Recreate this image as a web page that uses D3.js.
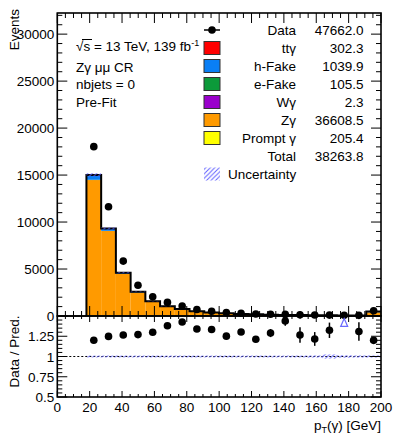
<!DOCTYPE html>
<html><head><meta charset="utf-8">
<script src="https://cdn.jsdelivr.net/npm/d3@7"></script>
<style>body{margin:0;background:#fff}svg{display:block}text{font-family:"Liberation Sans",Arial,sans-serif;fill:#000}</style>
</head><body><svg id="c" width="394" height="434"></svg>
<script>
// ---------------- data ----------------
const binEdges = [18,27.1,36.2,45.3,54.4,63.5,72.6,81.7,90.8,99.9,109,118.1,127.2,136.3,145.4,154.5,163.6,172.7,181.8,190.9,200];
const zgamma  = [14400,9000,4450,2480,1500,1000,700,480,355,265,203,160,127,104,85,71,60,51,44,390];
const hfake   = [500,230,105,55,32,20,14,10,8,6,5,4,4,3,3,2,2,2,2,33];
const ttgamma = [20,22,22,20,19,18,17,16,15,14,13,12,11,10,9,8,7,7,6,36];
const efake   = [30,20,13,9,6,5,4,3,2,2,2,1,1,1,1,1,1,0.5,0.5,2.5];
const wgamma  = [0.6,0.4,0.3,0.2,0.15,0.1,0.1,0.08,0.07,0.05,0.04,0.03,0.03,0.02,0.02,0.02,0.01,0.01,0.01,0.08];
const prompt  = [70,45,25,15,10,7,5,4,3,3,2,2,2,1.5,1.5,1,1,1,1,5.4];
const dataVals = [18025,11628,5843,3276,2037,1449,1055,687,511,363,293,217,187,172,126,101,94,87,70,560];
const ratioErr = [0.01,0.01,0.01,0.01,0.015,0.015,0.02,0.02,0.025,0.035,0.035,0.035,0.05,0.06,0.095,0.085,0.095,0,0.115,0.04];
const uncRel   = [0.012,0.012,0.012,0.012,0.012,0.012,0.012,0.012,0.012,0.012,0.012,0.012,0.012,0.012,0.012,0.014,0.026,0.016,0.014,0.014];
const offScale = [false,false,false,false,false,false,false,false,false,false,false,false,false,false,false,false,false,true,false,false];

const legendNames  = ["tt\u03b3","h-Fake","e-Fake","W\u03b3","Z\u03b3","Prompt \u03b3"];
const legendValues = ["302.3","1039.9","105.5","2.3","36608.5","205.4"];
const legendColors = ["#ff0000","#0a7ff5","#0c9a3a","#9a00cc","#ff9a00","#ffff00"];
const dataTotal = "47662.0", mcTotal = "38263.8";
const labelLines = ["Z\u03b3 \u03bc\u03bc CR","nbjets = 0","Pre-Fit"];
const mainTicks = [0,5000,10000,15000,20000,25000,30000];
const ratioTicks = [0.5,0.75,1,1.25];
const xTicks = [0,20,40,60,80,100,120,140,160,180,200];

// stack order bottom -> top
const stackOrder = [
  {vals:prompt, col:"#ffff00"},
  {vals:zgamma, col:"#ff9a00"},
  {vals:wgamma, col:"#9a00cc"},
  {vals:efake,  col:"#0c9a3a"},
  {vals:hfake,  col:"#0a7ff5"},
  {vals:ttgamma,col:"#ff0000"}
];

// ---------------- layout ----------------
const L=57.3, R=381, T=13, MB=316, RB=397;
const svg = d3.select("#c");
const x = d3.scaleLinear().domain([0,200]).range([L,R]);
const y = d3.scaleLinear().domain([0,32250]).range([MB,T]);
const yr = d3.scaleLinear().domain([0.5,1.5]).range([RB,MB]);
const FS = 13.5;

const defs = svg.append("defs");
const pat = defs.append("pattern").attr("id","hatch").attr("patternUnits","userSpaceOnUse").attr("width",4.5).attr("height",4.5);
pat.append("path").attr("d","M-1,1 l2,-2 M0,4.5 l4.5,-4.5 M3.5,5.5 l2,-2").attr("stroke","#6060ff").attr("stroke-width",1);

const nb = zgamma.length;
const total = d3.range(nb).map(i => stackOrder.reduce((s,c)=>s+c.vals[i],0));

// stacked areas
let cum = new Array(nb).fill(0);
const gMain = svg.append("g");
stackOrder.forEach(c=>{
  for(let i=0;i<nb;i++){
    const lo=cum[i], hi=cum[i]+c.vals[i];
    gMain.append("rect").attr("x",x(binEdges[i])).attr("width",x(binEdges[i+1])-x(binEdges[i]))
      .attr("y",y(hi)).attr("height",Math.max(0,y(lo)-y(hi))).attr("fill",c.col);
    cum[i]=hi;
  }
});
// total outline
let pts=[[binEdges[0],0]];
for(let i=0;i<nb;i++){pts.push([binEdges[i],total[i]]);pts.push([binEdges[i+1],total[i]]);}
gMain.append("path").attr("d",d3.line().x(d=>x(d[0])).y(d=>y(d[1]))(pts)).attr("fill","none").attr("stroke","#000").attr("stroke-width",2);
// uncertainty band main
for(let i=0;i<nb;i++){
  gMain.append("rect").attr("x",x(binEdges[i])).attr("width",x(binEdges[i+1])-x(binEdges[i]))
   .attr("y",y(total[i]*(1+uncRel[i]))).attr("height",y(total[i]*(1-uncRel[i]))-y(total[i]*(1+uncRel[i]))).attr("fill","url(#hatch)");
}
// data points main
const centers = d3.range(nb).map(i=>(binEdges[i]+binEdges[i+1])/2);
for(let i=0;i<nb;i++){
  const e = ratioErr[i]*total[i];
  gMain.append("line").attr("x1",x(centers[i])).attr("x2",x(centers[i])).attr("y1",y(dataVals[i]-e)).attr("y2",y(dataVals[i]+e)).attr("stroke","#000").attr("stroke-width",1.5);
  gMain.append("circle").attr("cx",x(centers[i])).attr("cy",y(dataVals[i])).attr("r",3.8).attr("fill","#000");
}

// ratio panel
const gR = svg.append("g");
gR.append("line").attr("x1",L).attr("x2",R).attr("y1",yr(1)).attr("y2",yr(1)).attr("stroke","#000").attr("stroke-width",1).attr("stroke-dasharray","2,2");
for(let i=0;i<nb;i++){
  gR.append("rect").attr("x",x(binEdges[i])).attr("width",x(binEdges[i+1])-x(binEdges[i]))
    .attr("y",yr(1+uncRel[i])).attr("height",yr(1-uncRel[i])-yr(1+uncRel[i])).attr("fill","url(#hatch)");
}
for(let i=0;i<nb;i++){
  const r = dataVals[i]/total[i];
  if(offScale[i]){
    const cx=x(centers[i]), cy=yr(r);
    gR.append("path").attr("d",`M${cx},${cy-4.5} L${cx+3.5},${cy+3.5} L${cx-3.5},${cy+3.5} Z`).attr("fill","none").attr("stroke","#6b6bff").attr("stroke-width",1.2);
    continue;
  }
  gR.append("line").attr("x1",x(centers[i])).attr("x2",x(centers[i])).attr("y1",yr(r-ratioErr[i])).attr("y2",yr(r+ratioErr[i])).attr("stroke","#000").attr("stroke-width",1.5);
  gR.append("circle").attr("cx",x(centers[i])).attr("cy",yr(r)).attr("r",3.8).attr("fill","#000");
}

// ---------------- axes / frames ----------------
function frame(top,bot){
  svg.append("rect").attr("x",L).attr("y",top).attr("width",R-L).attr("height",bot-top).attr("fill","none").attr("stroke","#000").attr("stroke-width",1.6);
}
frame(T,MB); frame(MB,RB);
const gA = svg.append("g").attr("stroke","#000").attr("stroke-width",1);
function tick(x1,y1,x2,y2){gA.append("line").attr("x1",x1).attr("y1",y1).attr("x2",x2).attr("y2",y2);}
// main y
d3.range(0,32251,1000).forEach(v=>{
  const major = v%5000===0, len = major?10:5;
  tick(L,y(v),L+len,y(v)); tick(R,y(v),R-len,y(v));
});
mainTicks.forEach(v=>svg.append("text").attr("x",L-3).attr("y",y(v)+5).attr("text-anchor","end").attr("font-size",FS).text(v));
// ratio y
d3.range(0.5,1.5001,0.05).forEach(v=>{
  const major = Math.abs(v/0.25-Math.round(v/0.25))<1e-6, len = major?10:5;
  tick(L,yr(v),L+len,yr(v)); tick(R,yr(v),R-len,yr(v));
});
ratioTicks.forEach(v=>svg.append("text").attr("x",L-3).attr("y",yr(v)+5).attr("text-anchor","end").attr("font-size",FS).text(v));
// x ticks
d3.range(0,201,5).forEach(v=>{
  const major = v%20===0, len1 = major?10:5, len2 = major?6:3;
  tick(x(v),MB,x(v),MB-len1); tick(x(v),T,x(v),T+len1);
  tick(x(v),RB,x(v),RB-len2); tick(x(v),MB,x(v),MB+len2);
});
xTicks.forEach(v=>svg.append("text").attr("x",x(v)).attr("y",RB+15).attr("text-anchor","middle").attr("font-size",FS).text(v));

// titles
svg.append("text").attr("transform",`translate(19,${T-4}) rotate(-90)`).attr("text-anchor","end").attr("font-size",FS).text("Events");
svg.append("text").attr("transform",`translate(19,${(MB+RB)/2-5}) rotate(-90)`).attr("text-anchor","middle").attr("font-size",FS).text("Data / Pred.");
const xt = svg.append("text").attr("x",R).attr("y",430).attr("text-anchor","end").attr("font-size",FS);
xt.append("tspan").text("p");
xt.append("tspan").attr("font-size",9).attr("dy",3).text("T");
xt.append("tspan").attr("dy",-3).text("(\u03b3) [GeV]");

// labels
const lab = svg.append("text").attr("x",76).attr("y",51).attr("font-size",FS);
lab.append("tspan").text("\u221as = 13 TeV, 139 fb");
lab.append("tspan").attr("font-size",9).attr("dy",-5).text("-1");
svg.append("line").attr("x1",82).attr("x2",92).attr("y1",39.5).attr("y2",39.5).attr("stroke","#000").attr("stroke-width",1);
labelLines.forEach((t,i)=>svg.append("text").attr("x",76).attr("y",71.5+i*17.5).attr("font-size",FS).text(t));

// legend
const lx0=204, lx1=220, lTx=296, lVx=363.5, ly0=30, dy=18;
svg.append("line").attr("x1",lx0).attr("x2",lx1).attr("y1",ly0).attr("y2",ly0).attr("stroke","#000").attr("stroke-width",1.5);
svg.append("circle").attr("cx",(lx0+lx1)/2).attr("cy",ly0).attr("r",3.8).attr("fill","#000");
svg.append("text").attr("x",lTx).attr("y",ly0+5).attr("text-anchor","end").attr("font-size",FS).text("Data");
svg.append("text").attr("x",lVx).attr("y",ly0+5).attr("text-anchor","end").attr("font-size",FS).text(dataTotal);
legendNames.forEach((n,i)=>{
  const cy = ly0+(i+1)*dy;
  svg.append("rect").attr("x",lx0).attr("y",cy-6.5).attr("width",lx1-lx0).attr("height",13).attr("fill",legendColors[i]).attr("stroke","#333").attr("stroke-width",1);
  svg.append("text").attr("x",lTx).attr("y",cy+5).attr("text-anchor","end").attr("font-size",FS).text(n);
  svg.append("text").attr("x",lVx).attr("y",cy+5).attr("text-anchor","end").attr("font-size",FS).text(legendValues[i]);
});
const ty = ly0+7*dy;
svg.append("text").attr("x",lTx).attr("y",ty+5).attr("text-anchor","end").attr("font-size",FS).text("Total");
svg.append("text").attr("x",lVx).attr("y",ty+5).attr("text-anchor","end").attr("font-size",FS).text(mcTotal);
const uy = ly0+8*dy;
svg.append("rect").attr("x",lx0).attr("y",uy-6.5).attr("width",lx1-lx0).attr("height",13).attr("fill","url(#hatch)");
svg.append("text").attr("x",228).attr("y",uy+5).attr("font-size",FS).text("Uncertainty");
</script></body></html>
